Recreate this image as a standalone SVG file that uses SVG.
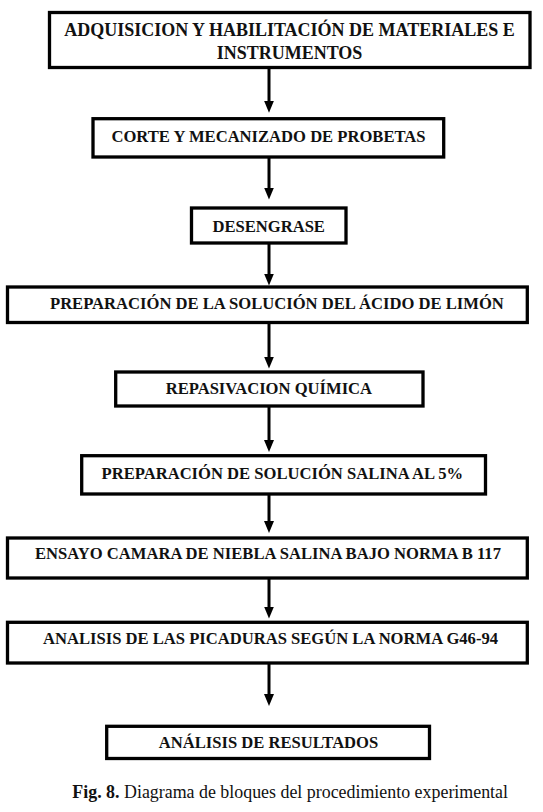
<svg xmlns="http://www.w3.org/2000/svg" width="543" height="812" viewBox="0 0 543 812">
<style>
.box{fill:#fff;stroke:#000;stroke-width:3.3}
.t{font-family:"Liberation Serif","Times New Roman",serif;font-weight:bold;font-size:16.6px;fill:#111;text-anchor:middle}
.big{font-size:18px}
.c{stroke:#000;stroke-width:3;fill:none}
.cap{font-family:"Liberation Serif","Times New Roman",serif;font-size:17.9px;fill:#111}
</style>
<defs>
<marker id="ah" viewBox="0 0 12 10" refX="4" refY="5" markerWidth="12" markerHeight="10" orient="auto" markerUnits="userSpaceOnUse">
<path d="M0,0 L12,5 L0,10 Z" fill="#000"/>
</marker>
</defs>
<rect width="543" height="812" fill="#fff"/>
<g id="connectors">
<line class="c" x1="269" y1="68" x2="269" y2="104.7" marker-end="url(#ah)"/>
<line class="c" x1="269" y1="157" x2="269" y2="191.5" marker-end="url(#ah)"/>
<line class="c" x1="269" y1="243" x2="269" y2="277.5" marker-end="url(#ah)"/>
<line class="c" x1="269" y1="322.5" x2="269" y2="360.5" marker-end="url(#ah)"/>
<line class="c" x1="269" y1="406" x2="269" y2="444" marker-end="url(#ah)"/>
<line class="c" x1="269" y1="494" x2="269" y2="525" marker-end="url(#ah)"/>
<line class="c" x1="269" y1="578" x2="269" y2="610.5" marker-end="url(#ah)"/>
<line class="c" x1="269" y1="663" x2="269" y2="698" marker-end="url(#ah)"/>
</g>
<g id="n1"><rect class="box" x="49.5" y="12.5" width="480.5" height="55"/>
<text class="t big" x="289.5" y="35.7">ADQUISICION Y HABILITACIÓN DE MATERIALES E</text>
<text class="t big" x="289.5" y="59.3">INSTRUMENTOS</text></g>
<g id="n2"><rect class="box" x="93" y="118.7" width="350.7" height="38.3"/>
<text class="t" x="268.5" y="141.5">CORTE Y MECANIZADO DE PROBETAS</text></g>
<g id="n3"><rect class="box" x="191.5" y="208" width="154.5" height="35"/>
<text class="t" x="268.7" y="231.8">DESENGRASE</text></g>
<g id="n4"><rect class="box" x="7.5" y="287" width="519.8" height="35.5"/>
<text class="t" x="276.9" y="309.3">PREPARACIÓN DE LA SOLUCIÓN DEL ÁCIDO DE LIMÓN</text></g>
<g id="n5"><rect class="box" x="115.7" y="372" width="307.3" height="34"/>
<text class="t" x="268.9" y="394.2">REPASIVACION QUÍMICA</text></g>
<g id="n6"><rect class="box" x="81.7" y="455.7" width="403.8" height="38.3"/>
<text class="t" x="282.4" y="478.5">PREPARACIÓN DE SOLUCIÓN SALINA AL 5%</text></g>
<g id="n7"><rect class="box" x="7.5" y="538" width="519.8" height="40"/>
<text class="t" x="268" y="559.3">ENSAYO CAMARA DE NIEBLA SALINA BAJO NORMA B 117</text></g>
<g id="n8"><rect class="box" x="7.5" y="622.3" width="519.8" height="40.7"/>
<text class="t" x="270.5" y="644">ANALISIS DE LAS PICADURAS SEGÚN LA NORMA G46-94</text></g>
<g id="n9"><rect class="box" x="106.7" y="726.3" width="322.8" height="32.2"/>
<text class="t" x="268.5" y="748.3">ANÁLISIS DE RESULTADOS</text></g>
<text class="cap" x="72.3" y="797.7"><tspan font-weight="bold">Fig. 8.</tspan> Diagrama de bloques del procedimiento experimental</text>
</svg>
